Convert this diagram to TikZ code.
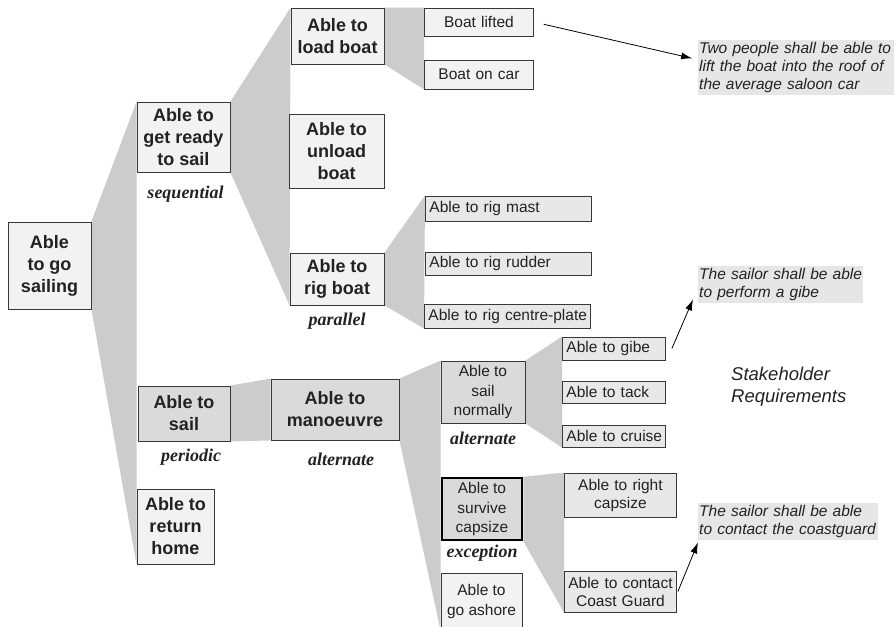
\documentclass[tikz,border=0pt]{standalone}
\usepackage{fontspec}
\setmainfont{Liberation Serif}
\setsansfont{Liberation Sans}
\usepackage{tikz}
\usetikzlibrary{positioning,arrows.meta,backgrounds}
\definecolor{fangray}{HTML}{CCCCCC}
\definecolor{palegray}{HTML}{F2F2F2}
\definecolor{shadegray}{HTML}{DADADA}
\definecolor{leafgray}{HTML}{E8E8E8}
\definecolor{notegray}{HTML}{E6E6E6}
\definecolor{inkgray}{HTML}{222222}
\definecolor{linegray}{HTML}{383838}

\begin{document}
\begin{tikzpicture}[
    x=1pt, y=-1pt,
    font=\sffamily,
    base_box/.style={draw=linegray, line width=0.9pt, text=inkgray, inner sep=0pt, align=center},
    goal_box/.style={base_box, fill=palegray, font=\sffamily\bfseries\fontsize{18}{22}\selectfont},
    sail_box/.style={goal_box, fill=shadegray},
    task_box/.style={base_box, fill=shadegray, font=\sffamily\fontsize{15.5}{19.3}\selectfont},
    leaf_box/.style={base_box, fill=leafgray, anchor=west, inner xsep=2pt, align=left, font=\sffamily\fontsize{15.5}{18}\selectfont},
    note_box/.style={fill=notegray, text=inkgray, anchor=north west, inner xsep=1pt, inner ysep=0pt, align=left, font=\sffamily\itshape\fontsize{15.5}{18}\selectfont},
    kind_label/.style={inner sep=0pt, text=inkgray, font=\rmfamily\bfseries\itshape\fontsize{18}{20}\selectfont},
    fan/.style={fill=fangray},
    arrow/.style={-{Latex[length=11pt,width=7pt]}, line width=0.8pt, draw=black}
]
\useasboundingbox (0,0) rectangle (896,626);

\node (goal) [goal_box, minimum width=83pt, minimum height=87pt] at (49.5,265.5) {Able\\to go\\sailing};

\node (ready) [goal_box, minimum width=93pt, minimum height=70pt] at (183.5,137) {Able to\\get ready\\to sail};
\node (sail) [sail_box, minimum width=92pt, minimum height=55pt] at (184,413.5) {Able to\\sail};
\node (home) [goal_box, minimum width=77pt, minimum height=75pt] at (175.5,526.5) {Able to\\return\\home};

\node (load) [goal_box, minimum width=93pt, minimum height=56pt] at (337.5,36) {Able to\\load boat};
\node (unload) [goal_box, minimum width=95pt, minimum height=74pt] at (336.5,151) {Able to\\unload\\boat};
\node (rig) [goal_box, minimum width=94pt, minimum height=52pt] at (337,279) {Able to\\rig boat};
\node (manoeuvre) [sail_box, minimum width=128pt, minimum height=61pt] at (335,409.5) {Able to\\manoeuvre};

\node (lifted) [leaf_box, fill=palegray, align=center, text width=105pt, minimum height=28pt] at (424,22) {Boat lifted};
\node (oncar) [leaf_box, fill=palegray, align=center, text width=105pt, minimum height=29pt] at (424,74.5) {Boat on car};
\node (mast) [leaf_box, text width=162pt, minimum height=25pt] at (425,208.5) {\hspace*{2pt}Able to rig mast};
\node (rudder) [leaf_box, text width=162pt, minimum height=23pt] at (425,263.5) {\hspace*{2pt}Able to rig rudder};
\node (plate) [leaf_box, text width=162pt, minimum height=24pt] at (424,316) {\hspace*{2pt}Able to rig centre-plate};

\node (normally) [task_box, minimum width=84pt, minimum height=62pt] at (483,392) {Able to\\sail\\normally};
\node (capsize) [task_box, draw=black, line width=2.5pt, minimum width=80pt, minimum height=62pt] at (482,509) {Able to\\survive\\capsize};
\node (ashore) [task_box, fill=palegray, minimum width=81pt, minimum height=57pt] at (481.5,601.5) {Able to\\go ashore};

\node (gibe) [leaf_box, text width=99pt, minimum height=23pt] at (562,348.5) {\hspace*{2pt}Able to gibe};
\node (tack) [leaf_box, text width=99pt, minimum height=22pt] at (562,392) {\hspace*{2pt}Able to tack};
\node (cruise) [leaf_box, text width=99pt, minimum height=22pt] at (562,436) {\hspace*{2pt}Able to cruise};
\node (right) [leaf_box, align=center, text width=108pt, minimum height=44pt] at (564,495) {Able to right\\capsize};
\node (coast) [leaf_box, align=center, text width=108pt, minimum height=41pt] at (564,591.5) {Able to contact\\Coast Guard};

\node (seq_label) [kind_label, below=13pt of ready, xshift=2pt] {sequential};
\node (par_label) [kind_label, below=7pt of rig] {parallel};
\node (per_label) [kind_label, below=7pt of sail, xshift=7pt] {periodic};
\node (alt_label) [kind_label, below=12pt of manoeuvre, xshift=6pt] {alternate};
\node (alt2_label) [kind_label, below=8pt of normally] {alternate};
\node (exc_label) [kind_label, below=4pt of capsize] {exception};

\node (lift_note) [note_box, text width=194pt, minimum height=55pt] at (698,40) {Two people shall be able to\\lift the boat into the roof of\\the average saloon car};
\node (gibe_note) [note_box, text width=163pt, minimum height=37pt] at (698,266) {The sailor shall be able\\to perform a gibe};
\node (coast_note) [note_box, text width=178pt, minimum height=37pt] at (698,503) {The sailor shall be able\\to contact the coastguard};
\node (stake_label) [anchor=west, align=left, inner sep=0pt, text=inkgray, font=\sffamily\itshape\fontsize{18.5}{21.7}\selectfont] at (731,387) {Stakeholder\\Requirements};

\begin{scope}[on background layer]
\foreach \parent/\first/\last in {goal/ready/home, ready/load/rig, load/lifted/oncar, rig/mast/plate, sail/manoeuvre/manoeuvre, manoeuvre/normally/ashore, normally/gibe/cruise, capsize/right/coast}
    \fill [fan] (\parent.north east) -- (\first.north west) -- (\last.south west) -- (\parent.south east) -- cycle;
\end{scope}

\draw [arrow, shorten <=10pt, shorten >=6pt] (lifted.east) -- ([yshift=8pt]lift_note.west);
\draw [arrow] ([xshift=6pt]gibe.east) -- ([xshift=-5pt,yshift=4pt]gibe_note.south west);
\draw [arrow] ([xshift=1pt]coast.east) -- ([yshift=-2pt]coast_note.south west);

\end{tikzpicture}
\end{document}
